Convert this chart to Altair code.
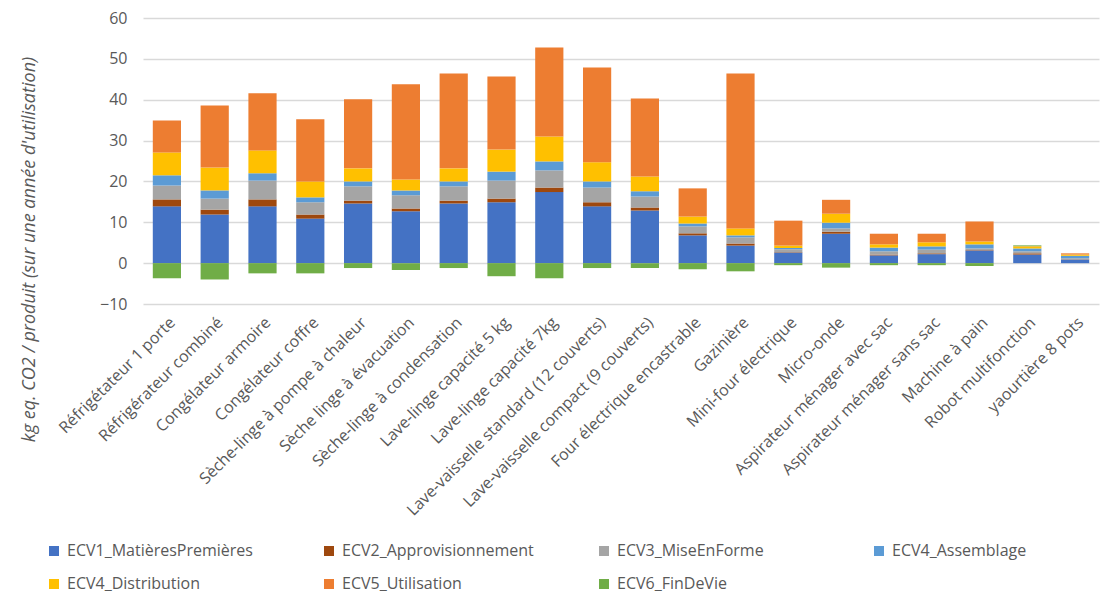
import altair as alt
import pandas as pd

categories = [
    "Réfrigétateur 1 porte", "Réfrigérateur combiné", "Congélateur armoire",
    "Congélateur coffre", "Sèche-linge à pompe à chaleur", "Sèche linge à évacuation",
    "Sèche-linge à condensation", "Lave-linge capacité 5 kg", "Lave-linge capacité 7kg",
    "Lave-vaisselle standard (12 couverts)", "Lave-vaisselle compact (9 couverts)",
    "Four électrique encastrable", "Gazinière", "Mini-four électrique", "Micro-onde",
    "Aspirateur ménager avec sac", "Aspirateur ménager sans sac", "Machine à pain",
    "Robot multifonction", "yaourtière 8 pots",
]

series_names = [
    "ECV1_MatièresPremières", "ECV2_Approvisionnement", "ECV3_MiseEnForme",
    "ECV4_Assemblage", "ECV4_Distribution", "ECV5_Utilisation", "ECV6_FinDeVie",
]

ecv1 = [13.9, 11.9, 13.9, 10.9, 14.6, 12.7, 14.6, 14.9, 17.4, 13.9, 12.9, 6.8, 4.3, 2.6, 7.2, 1.9, 2.2, 3.1, 2.1, 0.9]
ecv2 = [1.7, 1.2, 1.7, 1.0, 0.7, 0.7, 0.7, 0.9, 1.1, 1.0, 0.7, 0.5, 0.5, 0.1, 0.5, 0.2, 0.2, 0.1, 0.3, 0.05]
ecv3 = [3.4, 2.7, 4.6, 3.0, 3.5, 3.2, 3.5, 4.4, 4.2, 3.6, 2.7, 1.7, 1.5, 0.7, 0.8, 0.8, 0.9, 0.4, 0.5, 0.25]
ecv4a = [2.5, 2.0, 1.8, 1.2, 1.2, 1.2, 1.2, 2.2, 2.2, 1.5, 1.3, 0.7, 0.5, 0.3, 1.4, 0.9, 0.8, 1.0, 0.7, 0.6]
ecv4d = [5.6, 5.6, 5.6, 3.9, 3.2, 2.7, 3.2, 5.4, 6.1, 4.7, 3.6, 1.7, 1.7, 0.6, 2.2, 0.8, 1.0, 0.7, 0.5, 0.3]
ecv5 = [7.8, 15.2, 14.0, 15.2, 16.9, 23.3, 23.2, 17.9, 21.8, 23.2, 19.1, 6.9, 37.9, 6.1, 3.4, 2.6, 2.1, 4.9, 0.05, 0.3]
ecv6 = [-3.7, -4.0, -2.5, -2.5, -1.2, -1.7, -1.2, -3.2, -3.7, -1.2, -1.2, -1.5, -2.0, -0.5, -1.1, -0.5, -0.5, -0.7, 0.2, 0.0]

colors = ["#4472C4", "#9E480E", "#A5A5A5", "#5B9BD5", "#FFC000", "#ED7D31", "#70AD47"]

all_series = [ecv1, ecv2, ecv3, ecv4a, ecv4d, ecv5, ecv6]
rows = []
for si, (name, vals) in enumerate(zip(series_names, all_series)):
    for cat, v in zip(categories, vals):
        rows.append({"cat": cat, "serie": name, "val": v, "ord": si})
df = pd.DataFrame(rows)

FONT = "Open Sans"
GREY = "#595959"

chart = alt.Chart(df).mark_bar().encode(
    x=alt.X("cat:N", sort=categories, title=None,
            scale=alt.Scale(paddingInner=0.41, paddingOuter=0.205),
            axis=alt.Axis(labelAngle=-45, labelFontSize=16, labelColor=GREY, labelFont=FONT,
                          domain=False, ticks=False, labelPadding=10, labelLimit=400,
                          labelOverlap=False)),
    y=alt.Y("val:Q", title="kg eq. CO2 / produit (sur une année d'utilisation)",
            scale=alt.Scale(domain=[-10, 60], nice=False, zero=False),
            axis=alt.Axis(values=[-10, 0, 10, 20, 30, 40, 50, 60], labelFontSize=16,
                          labelColor=GREY, labelFont=FONT, domain=False, ticks=False,
                          labelPadding=16, gridColor="#D9D9D9", gridWidth=1.5,
                          titleFont=FONT, titleFontSize=18, titleFontStyle="italic",
                          titleFontWeight="normal", titleColor=GREY, titleX=-114, titleY=231,
                          titleAlign="center", titleBaseline="middle", titleAngle=270)),
    color=alt.Color("serie:N", sort=series_names,
                    scale=alt.Scale(domain=series_names, range=colors),
                    legend=alt.Legend(title=None, orient="none", legendX=-97, legendY=525,
                                      direction="horizontal", columns=4, gridAlign="all",
                                      columnPadding=62, rowPadding=17, symbolType="square",
                                      symbolSize=100, symbolStrokeWidth=0, labelFont=FONT,
                                      labelFontSize=16, labelColor=GREY, labelOffset=5,
                                      labelLimit=400)),
    order=alt.Order("ord:Q", sort="ascending"),
).properties(
    width=956, height=286,
    autosize=alt.AutoSizeParams(type="none"),
    padding={"left": 143, "top": 18, "right": 7, "bottom": 300},
).configure_view(stroke=None)

chart.save("out.html", embed_options={"renderer": "svg", "actions": False})
